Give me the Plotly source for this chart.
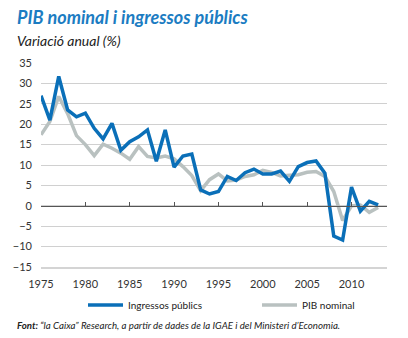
import plotly.graph_objects as go

years = list(range(1975, 2014))
ingressos = [27.0, 21.0, 31.7, 23.5, 21.8, 22.7, 19.0, 16.4, 20.2, 13.6,
             15.7, 16.9, 18.6, 10.9, 18.6, 9.5, 12.2, 12.7, 3.9, 2.9,
             3.5, 7.2, 6.2, 8.1, 9.0, 7.8, 7.8, 8.5, 6.0, 9.6,
             10.6, 11.0, 8.0, -7.4, -8.4, 4.6, -1.3, 1.1, 0.2]
pib = [17.4, 20.7, 26.8, 22.6, 17.2, 15.0, 12.3, 15.1, 14.1, 12.9,
       11.4, 14.5, 12.1, 11.7, 12.2, 11.5, 9.6, 7.4, 3.7, 6.4,
       7.8, 6.1, 6.3, 7.2, 7.6, 8.7, 8.2, 7.3, 7.5, 7.6,
       8.2, 8.4, 7.2, 3.5, -3.6, 0.0, 0.2, -1.6, -0.4]

y_ticks = [-15, -10, -5, 0, 5, 10, 15, 20, 25, 30, 35]
x_ticks = [1975, 1980, 1985, 1990, 1995, 2000, 2005, 2010]

BLUE = "#0a6fb8"
GREY = "#b9c1c0"
FONT = "Lato"

fig = go.Figure()
fig.add_trace(go.Scatter(x=years, y=ingressos, mode="lines", name="Ingressos públics",
                         line=dict(color=BLUE, width=3.5), xaxis="x2", yaxis="y"))
fig.add_trace(go.Scatter(x=years, y=pib, mode="lines", name="PIB nominal",
                         line=dict(color=GREY, width=3.5), xaxis="x", yaxis="y"))

ylo, yhi = -15, 35
zero_pos = (0 - ylo) / (yhi - ylo)

fig.update_layout(
    width=408, height=338,
    margin=dict(l=41, r=21, t=63, b=71, autoexpand=False),
    paper_bgcolor="white", plot_bgcolor="white",
    font=dict(family=FONT, color="#333333", size=11),
    showlegend=True,
    legend=dict(orientation="h", x=83/408, y=1 - 305/338, xref="container", yref="container",
                xanchor="left", yanchor="middle", traceorder="normal",
                font=dict(size=10, color="#222222"), entrywidth=124,
                itemwidth=35, bgcolor="rgba(0,0,0,0)"),
    xaxis=dict(range=[1975, 2014], tickvals=x_ticks, showgrid=False, zeroline=False,
               showline=True, linecolor="#d4d4d4", linewidth=2,
               ticks="", ticklabelstandoff=6, tickfont=dict(size=11, color="#333333"),
               fixedrange=True),
    xaxis2=dict(range=[1975, 2014], tickvals=x_ticks, overlaying="x", anchor="free",
                position=zero_pos, side="bottom", showticklabels=False,
                showline=True, linecolor="#555555", linewidth=1.3,
                ticks="inside", ticklen=4, tickcolor="#555555", tickwidth=1.2,
                showgrid=False, zeroline=False),
    yaxis=dict(range=[ylo, yhi], tickvals=y_ticks, showgrid=True, gridcolor="#d0d0d0",
               gridwidth=1, zeroline=False, showline=False, ticks="",
               ticklabelstandoff=8, tickfont=dict(size=11, color="#333333")),
)

fig.add_annotation(text="<b><i>PIB nominal i ingressos públics</i></b>", xref="paper", yref="paper",
                   x=-0.075, y=1.0, xanchor="left", yanchor="bottom", yshift=33,
                   showarrow=False, font=dict(family=FONT, size=18, color="#1b7cc2"))
fig.add_annotation(text="<i>Variació anual (%)</i>", xref="paper", yref="paper",
                   x=-0.075, y=1.0, xanchor="left", yanchor="bottom", yshift=12,
                   showarrow=False, font=dict(family=FONT, size=14, color="#222222"))
fig.add_annotation(text="<b><i>Font:</i></b><i> “la Caixa” Research, a partir de dades de la IGAE i del Ministeri d’Economia.</i>",
                   xref="paper", yref="paper", x=-0.075, y=0, xanchor="left", yanchor="middle",
                   yshift=-58, showarrow=False, font=dict(family=FONT, size=9.7, color="#222222"))

fig.write_html("out.html")
